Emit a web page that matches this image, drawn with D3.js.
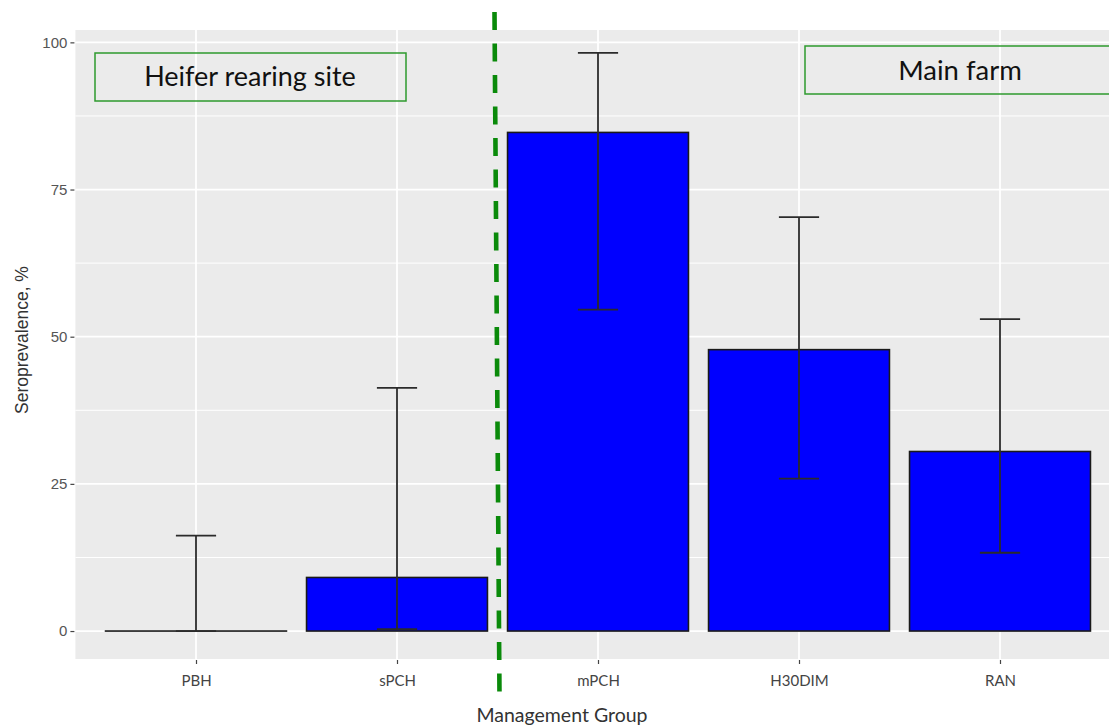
<!DOCTYPE html>
<html>
<head>
<meta charset="utf-8">
<script src="https://cdn.jsdelivr.net/npm/d3@7"></script>
<style>
  html, body { margin: 0; padding: 0; background: #fff; }
  svg { display: block; }
</style>
</head>
<body>
<svg id="chart" width="1109" height="726"></svg>
<script>
// ---- data ----
const categories = ["PBH", "sPCH", "mPCH", "H30DIM", "RAN"];
const seroprevalence = [0, 9.1, 84.7, 47.8, 30.5];
const ciLower = [0, 0.3, 54.6, 25.9, 13.3];
const ciUpper = [16.2, 41.3, 98.2, 70.3, 53.0];
const yTicks = [0, 25, 50, 75, 100];
const yMinorTicks = [12.5, 37.5, 62.5, 87.5];
const groupLabels = ["Heifer rearing site", "Main farm"];
const xTitle = "Management Group";
const yTitle = "Seroprevalence, %";

const data = categories.map((c, i) => ({
  cat: c, val: seroprevalence[i], lo: ciLower[i], hi: ciUpper[i]
}));

// ---- layout ----
const svg = d3.select("#chart");
const panel = { left: 75.4, right: 1120.6, top: 30, bottom: 659 };

const x = d3.scalePoint()
  .domain(categories)
  .range([panel.left, panel.right])
  .padding(0.6);
const step = x.step();
const barW = step * 0.9;
const capW = step * 0.2;

const y = d3.scaleLinear()
  .domain([-4.75, 102.1])
  .range([panel.bottom, panel.top]);

// panel background
svg.append("rect")
  .attr("x", panel.left).attr("y", panel.top)
  .attr("width", panel.right - panel.left)
  .attr("height", panel.bottom - panel.top)
  .attr("fill", "#EBEBEB");

// minor grid
svg.append("g").selectAll("line").data(yMinorTicks).join("line")
  .attr("x1", panel.left).attr("x2", panel.right)
  .attr("y1", d => y(d)).attr("y2", d => y(d))
  .attr("stroke", "#fff").attr("stroke-width", 1);

// major grid
svg.append("g").selectAll("line").data(yTicks).join("line")
  .attr("x1", panel.left).attr("x2", panel.right)
  .attr("y1", d => y(d)).attr("y2", d => y(d))
  .attr("stroke", "#fff").attr("stroke-width", 1.8);
svg.append("g").selectAll("line").data(categories).join("line")
  .attr("x1", d => x(d)).attr("x2", d => x(d))
  .attr("y1", panel.top).attr("y2", panel.bottom)
  .attr("stroke", "#fff").attr("stroke-width", 1.8);

// bars (zero-height bars still show their outline)
svg.append("g").selectAll("rect").data(data).join("rect")
  .attr("x", d => x(d.cat) - barW / 2)
  .attr("width", barW)
  .attr("y", d => y(d.val))
  .attr("height", d => Math.max(y(0) - y(d.val), 0.01))
  .attr("fill", "#0000FF")
  .attr("stroke", "#1a1a1a")
  .attr("stroke-width", 1.6);

// error bars
const eb = svg.append("g").attr("stroke", "#2b2b2b").attr("stroke-width", 1.8).attr("fill", "none");
eb.selectAll("line.v").data(data).join("line").attr("class", "v")
  .attr("x1", d => x(d.cat)).attr("x2", d => x(d.cat))
  .attr("y1", d => y(d.lo)).attr("y2", d => y(d.hi));
eb.selectAll("line.t").data(data).join("line").attr("class", "t")
  .attr("x1", d => x(d.cat) - capW / 2).attr("x2", d => x(d.cat) + capW / 2)
  .attr("y1", d => y(d.hi)).attr("y2", d => y(d.hi));
eb.selectAll("line.b").data(data).join("line").attr("class", "b")
  .attr("x1", d => x(d.cat) - capW / 2).attr("x2", d => x(d.cat) + capW / 2)
  .attr("y1", d => y(d.lo)).attr("y2", d => y(d.lo));

// y axis
const yAxis = d3.axisLeft(y).tickValues(yTicks).tickSize(4).tickPadding(3);
const gy = svg.append("g").attr("transform", `translate(${panel.left - 1},0)`).call(yAxis);
gy.select(".domain").remove();
gy.selectAll(".tick line").attr("stroke", "#444").attr("stroke-width", 1.2);
gy.selectAll(".tick text").attr("fill", "#555")
  .style("font-family", "'Liberation Sans', Arial, sans-serif").style("font-size", "15px");

// x axis
const xAxis = d3.axisBottom(x).tickSize(4).tickPadding(11);
const gx = svg.append("g").attr("transform", `translate(0,${panel.bottom + 1})`).call(xAxis);
gx.select(".domain").remove();
gx.selectAll(".tick line").attr("stroke", "#444").attr("stroke-width", 1.2);
gx.selectAll(".tick text").attr("fill", "#444")
  .style("font-family", "Lato, 'Open Sans', sans-serif").style("font-size", "15px");

// axis titles
svg.append("text")
  .attr("x", 562).attr("y", 722)
  .attr("text-anchor", "middle")
  .attr("fill", "#333")
  .style("font-family", "Lato, 'Open Sans', sans-serif").style("font-size", "19.5px")
  .text(xTitle);
svg.append("text")
  .attr("transform", `translate(28,340) rotate(-90)`)
  .attr("text-anchor", "middle")
  .attr("fill", "#333")
  .style("font-family", "'Liberation Sans', Arial, sans-serif").style("font-size", "17.5px")
  .text(yTitle);

// divider dashed line between sPCH and mPCH
const midX = (x("sPCH") + x("mPCH")) / 2;
svg.append("line")
  .attr("x1", midX - 3).attr("y1", 12)
  .attr("x2", midX + 2).attr("y2", 696)
  .attr("stroke", "#0a8a0a").attr("stroke-width", 4.6)
  .attr("stroke-dasharray", "18,13.5");

// group annotation boxes
const boxes = [
  { label: groupLabels[0], x: 95, y: 53, w: 311, h: 48 },
  { label: groupLabels[1], x: 805, y: 46, w: 320, h: 48 }
];
const bg = svg.append("g").selectAll("g").data(boxes).join("g");
bg.append("rect")
  .attr("x", d => d.x).attr("y", d => d.y)
  .attr("width", d => d.w).attr("height", d => d.h)
  .attr("fill", "none").attr("stroke", "#2e9a2e").attr("stroke-width", 1.5);
svg.append("text").attr("x", 250).attr("y", 86)
  .attr("text-anchor", "middle").attr("fill", "#111")
  .style("font-family", "Lato, 'Open Sans', sans-serif").style("font-size", "27px")
  .text(groupLabels[0]);
svg.append("text").attr("x", 960).attr("y", 80)
  .attr("text-anchor", "middle").attr("fill", "#111")
  .style("font-family", "Lato, 'Open Sans', sans-serif").style("font-size", "27.5px")
  .text(groupLabels[1]);
</script>
</body>
</html>
